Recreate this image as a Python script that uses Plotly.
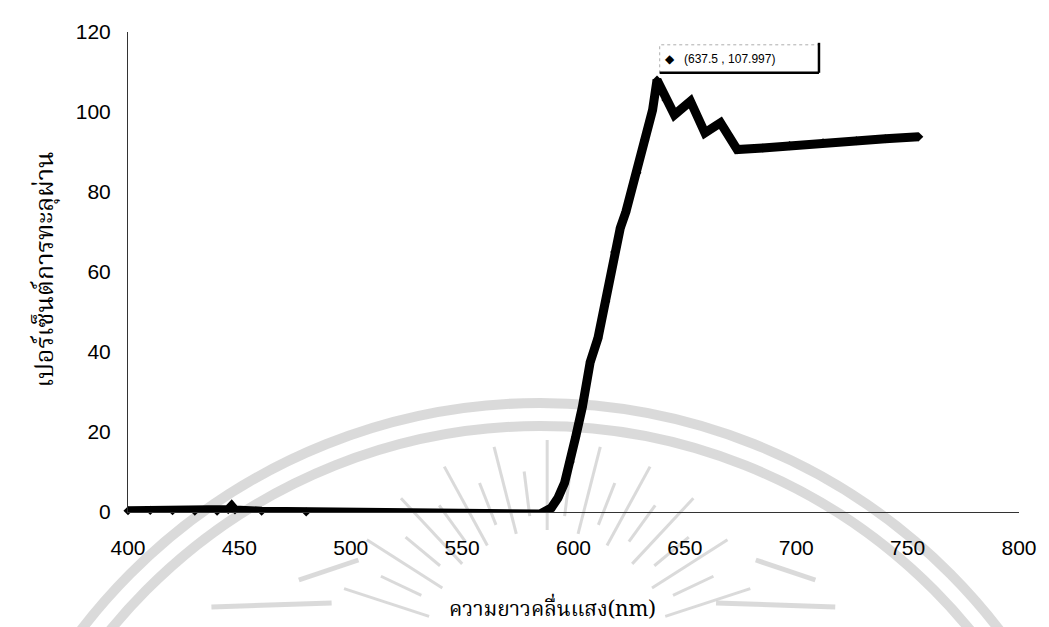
import math
import plotly.graph_objects as go

# ---- data ----
wavelength = [400, 410, 420, 430, 440, 445, 446.5, 448, 460, 480, 500, 520, 540, 560, 575, 585,
              590, 593, 596, 598.5, 601, 604, 607.5, 611, 614.5, 618.5, 621, 623.5, 628.5, 632, 635.5,
              637.5, 641.5, 645.3, 652.5, 659, 666, 673.5, 685, 697, 712, 727, 740, 755]
transmission = [0.3, 0.4, 0.3, 0.2, 0.2, 0.6, 1.5, 0.5, 0.2, 0.0, -0.2, -0.4, -0.6, -0.8, -0.8, -0.5,
                1.0, 3.5, 7.3, 12.5, 18.8, 26.3, 37.5, 43.5, 52.6, 65.0, 71.0, 75.0, 84.8, 93.0, 100.5,
                107.997, 103.0, 99.3, 102.7, 94.8, 97.3, 90.6, 91.0, 91.6, 92.3, 92.8, 93.3, 93.8]
peak_x, peak_y = 637.5, 107.997
x_ticks = [400, 450, 500, 550, 600, 650, 700, 750, 800]
y_ticks = [0, 20, 40, 60, 80, 100, 120]
x_title = "ความยาวคลื่นแสง(nm)"
y_title = "เปอร์เซ็นต์การทะลุผ่าน"

OFF = 8  # page body margin
W, H = 1049 - OFF, 627 - OFF
L, T = 128 - OFF, 32 - OFF
PW, PH = 897, 480
R, B = W - L - PW, H - T - PH

def px(xp):
    return (xp - OFF - L) / PW

def py(yp):
    return (T + PH - (yp - OFF)) / PH

fig = go.Figure()
fig.add_trace(go.Scatter(
    x=wavelength, y=transmission, mode="lines+markers",
    line=dict(color="black", width=9),
    marker=dict(symbol="diamond", size=7, color="black"),
    showlegend=False, hoverinfo="skip"))

shapes = []
gray = "rgba(205,205,205,0.75)"
# watermark seal (faint gray)
cx, cy = 543, 987
for r in (584, 561):
    shapes.append(dict(type="circle", xref="paper", yref="paper", layer="below",
                       x0=px(cx - r), x1=px(cx + r), y0=py(cy + r), y1=py(cy - r),
                       line=dict(color=gray, width=10)))
rcx, rcy = 550, 655
for k in range(21):
    a = math.radians(18 + k * 7.2)
    r0, r1 = (125, 215) if k % 2 == 0 else (140, 185)
    shapes.append(dict(type="line", xref="paper", yref="paper", layer="below",
                       x0=px(rcx + r0 * math.cos(a)), y0=py(rcy - r0 * math.sin(a)),
                       x1=px(rcx + r1 * math.cos(a)), y1=py(rcy - r1 * math.sin(a)),
                       line=dict(color=gray, width=3)))
for (xa, ya, xb, yb) in [(212, 607, 333, 603), (720, 603, 840, 607), (300, 580, 360, 560), (760, 560, 820, 580)]:
    shapes.append(dict(type="line", xref="paper", yref="paper", layer="below",
                       x0=px(xa), y0=py(ya), x1=px(xb), y1=py(yb),
                       line=dict(color=gray, width=5)))

# data label box near peak
bx0, bx1 = peak_x + 1.2, peak_x + 72.7
by0, by1 = peak_y + 1.8, peak_y + 8.8
shapes.append(dict(type="rect", xref="x", yref="y", x0=bx0, x1=bx1, y0=by0, y1=by1,
                   fillcolor="white", line=dict(color="rgba(120,120,120,0.6)", width=1, dash="dot")))
shapes.append(dict(type="line", xref="x", yref="y", x0=bx0, x1=bx1, y0=by0, y1=by0,
                   line=dict(color="black", width=2.5)))
shapes.append(dict(type="line", xref="x", yref="y", x0=bx1, x1=bx1, y0=by0, y1=by1 + 0.5,
                   line=dict(color="black", width=2.5)))

thai_font = "Noto Serif Thai, Tlwg Typo, Loma, Garuda, Liberation Serif, serif"
annotations = [
    dict(x=bx0 + 1.5, y=(by0 + by1) / 2, xref="x", yref="y", xanchor="left", yanchor="middle",
         text="\u25c6&nbsp;&nbsp;&nbsp;(637.5 , 107.997)", showarrow=False,
         font=dict(family="Liberation Sans, Arial, sans-serif", size=12, color="black")),
    dict(x=px(555), y=py(610), xref="paper", yref="paper", xanchor="center", yanchor="middle",
         text=x_title, showarrow=False,
         font=dict(family=thai_font, size=21, color="black")),
    dict(x=px(45), y=py(270), xref="paper", yref="paper", xanchor="center", yanchor="middle",
         text=y_title, showarrow=False, textangle=-90,
         font=dict(family=thai_font, size=25, color="black")),
]

fig.update_layout(
    width=W, height=H,
    margin=dict(l=L, r=R, t=T, b=B),
    paper_bgcolor="white", plot_bgcolor="rgba(0,0,0,0)",
    shapes=shapes, annotations=annotations,
    font=dict(family="Liberation Sans, Arial, sans-serif", color="black"),
    xaxis=dict(range=[400, 800], tickvals=x_ticks, ticktext=[str(v) for v in x_ticks],
               showgrid=False, zeroline=False, showline=True, linecolor="#333", linewidth=1,
               ticks="", ticklabelstandoff=17, tickfont=dict(size=21, color="black")),
    yaxis=dict(range=[0, 120], tickvals=y_ticks, ticktext=[str(v) for v in y_ticks],
               showgrid=False, zeroline=False, showline=True, linecolor="#333", linewidth=1,
               ticks="", ticklabelstandoff=12, tickfont=dict(size=21, color="black")),
)
fig.update_traces(cliponaxis=False)

fig.write_html("out.html")
